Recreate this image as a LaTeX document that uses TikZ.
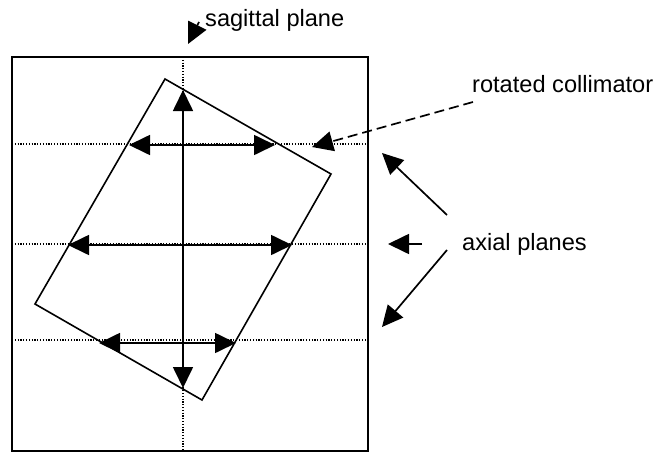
\documentclass[tikz,border=0pt]{standalone}
\usepackage{fontspec}
\setmainfont{Liberation Sans}
\usetikzlibrary{arrows.meta}

\begin{document}
\begin{tikzpicture}[x=1pt, y=-1pt,
    labelText/.style={anchor=base west, inner sep=0pt, font=\fontsize{23.6}{28}\selectfont},
    planeLine/.style={line width=1.1pt, dash pattern=on 1.2pt off 1.6pt},
    bigArrow/.style={line width=1.7pt, -{Triangle[length=21pt,width=20pt]}},
    twoArrow/.style={line width=1.7pt, {Triangle[length=21pt,width=20pt]}-{Triangle[length=21pt,width=20pt]}}]

    \useasboundingbox (0,0) rectangle (658,455);
    \def\frameLeft{12}
    \def\frameRight{368}

    % Draw outer frame
    \coordinate (F1) at (\frameLeft,57);
    \coordinate (F2) at (\frameRight,451);
    \draw[line width=1.6pt] (F1) rectangle (F2);

    % Draw sagittal and axial planes
    \draw[planeLine] (183,57) -- (183,451);
    \foreach \y in {144,244,340}
        \draw[planeLine] (\frameLeft,\y) -- (\frameRight,\y);

    % Rotated collimator: corners
    \coordinate (C1) at (165,79);
    \coordinate (C2) at (331,174);
    \coordinate (C3) at (202,400);
    \coordinate (C4) at (35,304);
    \draw[line width=1.6pt, line join=miter] (C1) -- (C2) -- (C3) -- (C4) -- cycle;

    % Arrows inside the collimator
    \coordinate (V1) at (183,90);
    \coordinate (V2) at (183,388);
    \draw[twoArrow] (V1) -- (V2);
    \coordinate (H1a) at (129,145);
    \coordinate (H1b) at (275,145);
    \draw[twoArrow] (H1a) -- (H1b);
    \coordinate (H2a) at (68,245);
    \coordinate (H2b) at (292,245);
    \draw[twoArrow] (H2a) -- (H2b);
    \coordinate (H3a) at (99,343);
    \coordinate (H3b) at (236,343);
    \draw[twoArrow] (H3a) -- (H3b);

    % Labels
    \node[labelText] (sagittal) at (205,27) {sagittal plane};
    \node[labelText] (collimator) at (472,92) {rotated collimator};
    \node[labelText] (axial) at (462,250) {axial planes};

    % Pointers from the labels
    \coordinate (sagTail) at (199,22);
    \coordinate (sagTip) at (188,44);
    \draw[bigArrow] (sagTail) -- (sagTip);

    \coordinate (colTail) at (473,102);
    \coordinate (colTip) at (312,147);
    \draw[bigArrow, dash pattern=on 10pt off 5pt] (colTail) -- (colTip);

    \coordinate (axTailA) at (447,215);
    \coordinate (axTipA) at (382,153);
    \coordinate (axTailB) at (422,244);
    \coordinate (axTipB) at (388,244);
    \coordinate (axTailC) at (447,250);
    \coordinate (axTipC) at (382,327);
    \draw[bigArrow] (axTailA) -- (axTipA);
    \draw[bigArrow] (axTailB) -- (axTipB);
    \draw[bigArrow] (axTailC) -- (axTipC);

\end{tikzpicture}
\end{document}
